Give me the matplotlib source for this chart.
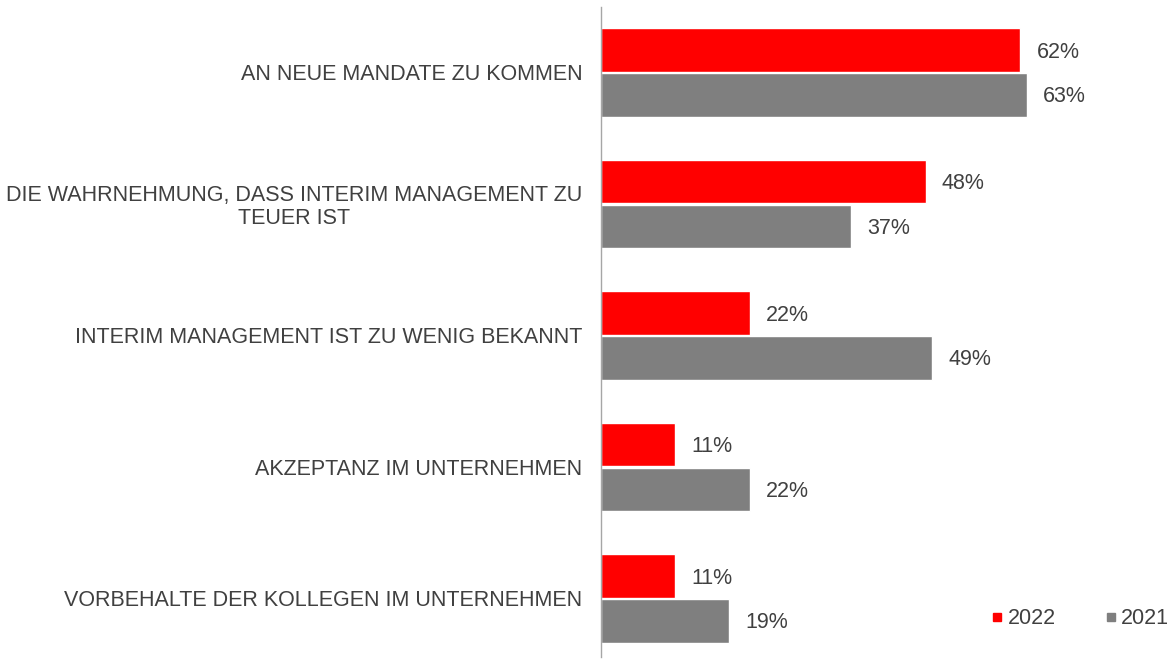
import matplotlib
matplotlib.use("Agg")
import matplotlib.pyplot as plt
from matplotlib.lines import Line2D
import numpy as np

plt.rcParams['font.family'] = ['Liberation Sans', 'DejaVu Sans']

# Daten
categories = [
    "AN NEUE MANDATE ZU KOMMEN",
    "DIE WAHRNEHMUNG, DASS INTERIM MANAGEMENT ZU\nTEUER IST",
    "INTERIM MANAGEMENT IST ZU WENIG BEKANNT",
    "AKZEPTANZ IM UNTERNEHMEN",
    "VORBEHALTE DER KOLLEGEN IM UNTERNEHMEN",
]
values_2022 = [62, 48, 22, 11, 11]
values_2021 = [63, 37, 49, 22, 19]
series_names = ["2022", "2021"]

red = "#ff0000"
grey = "#7f7f7f"
text_col = "#404040"
fs = 15.5

W, H = 1175, 659
fig = plt.figure(figsize=(W / 100, H / 100), dpi=100)
ax = fig.add_axes([601 / W, (H - 657) / H, (W - 601) / W, 650 / H])

y = np.arange(len(categories))
off = 0.17
h = 0.33
ax.barh(y - off, values_2022, height=h, color=red, edgecolor="white", linewidth=1)
ax.barh(y + off, values_2021, height=h, color=grey, edgecolor="white", linewidth=1)

for i in range(len(categories)):
    ax.text(values_2022[i] + 2.4, y[i] - off + 0.015, f"{values_2022[i]}%", va="center",
            ha="left", fontsize=fs, color=text_col)
    ax.text(values_2021[i] + 2.4, y[i] + off + 0.015, f"{values_2021[i]}%", va="center",
            ha="left", fontsize=fs, color=text_col)

ax.set_xlim(0, 84.9)
ax.set_ylim(4.445, -0.498)
ax.set_yticks(y)
ax.set_yticklabels(categories, fontsize=fs, color=text_col)
ax.set_xticks([])
for s in ["top", "right", "bottom"]:
    ax.spines[s].set_visible(False)
ax.spines["left"].set_color("#a6a6a6")
ax.spines["left"].set_linewidth(1)

# Kategorienbeschriftungen rechtsbündig mit zentrierten Zeilen
for lab in ax.get_yticklabels():
    lab.set_multialignment("center")
    lab.set_horizontalalignment("right")
    lab.set_linespacing(1.1)
ax.tick_params(axis="y", length=0, pad=13.5)

handles = [Line2D([], [], marker="s", linestyle="none", color=red, markersize=6),
           Line2D([], [], marker="s", linestyle="none", color=grey, markersize=6)]
fig.legend(handles, series_names, loc="center", bbox_to_anchor=(1080 / W, 1 - 619 / H),
           ncol=2, frameon=False, fontsize=fs, handletextpad=0.2,
           columnspacing=2.23, labelcolor=text_col, handlelength=0.6)

fig.savefig("out.png", dpi=100)
